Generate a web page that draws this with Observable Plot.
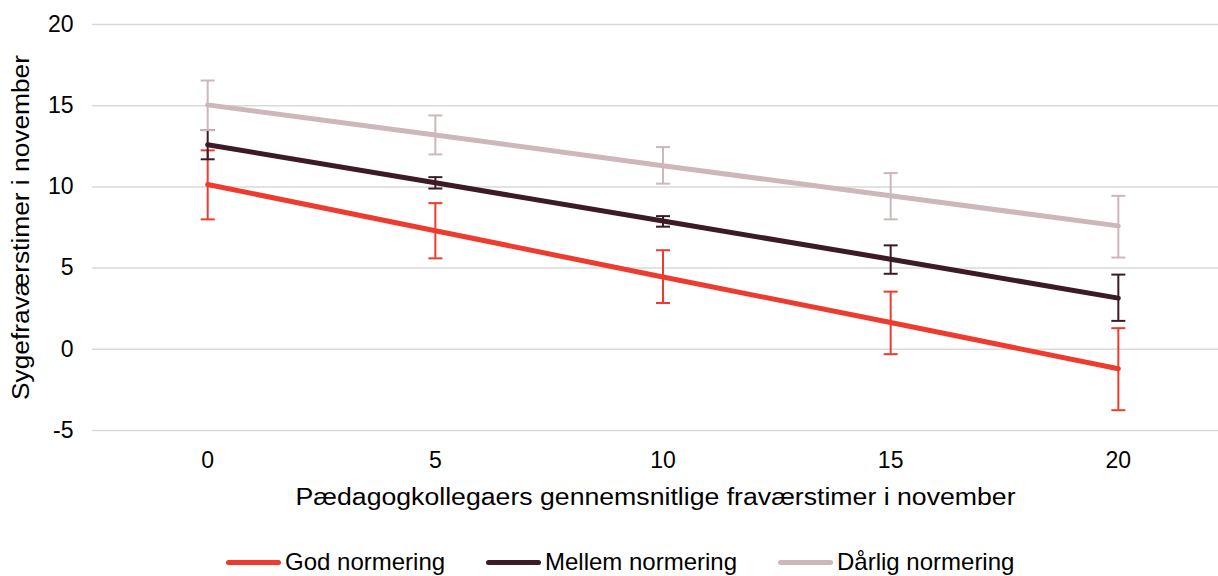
<!DOCTYPE html>
<html>
<head>
<meta charset="utf-8">
<script src="https://cdn.jsdelivr.net/npm/d3@7"></script>
<script src="https://cdn.jsdelivr.net/npm/@observablehq/plot@0.6"></script>
<style>
  html, body { margin: 0; padding: 0; background: #fff; }
  body { width: 1218px; height: 576px; overflow: hidden; font-family: "Liberation Sans", Arial, sans-serif; }
  #legend { position: absolute; left: 0; top: 548px; width: 1218px; height: 30px; font-size: 24px; color: #000; }
  .item { position: absolute; display: flex; align-items: center; white-space: nowrap; }
  .sw { width: 55px; height: 5px; border-radius: 3px; margin-right: 4px; }
</style>
</head>
<body>
<div id="chart"></div>
<div id="legend"></div>
<script>
const xValues = [0, 5, 10, 15, 20];
const seriesNames = ["God normering", "Mellem normering", "Dårlig normering"];
const seriesColors = ["#ee3b2e", "#3d1a27", "#cdb7ba"];
const godMean = [10.15, 7.3, 4.45, 1.65, -1.2];
const godLow = [8.0, 5.6, 2.85, -0.3, -3.75];
const godHigh = [12.25, 9.0, 6.1, 3.55, 1.3];
const mellemMean = [12.6, 10.25, 7.9, 5.55, 3.15];
const mellemLow = [11.7, 9.9, 7.55, 4.65, 1.75];
const mellemHigh = [13.5, 10.6, 8.2, 6.4, 4.6];
const darligMean = [15.05, 13.2, 11.3, 9.45, 7.6];
const darligLow = [13.5, 12.0, 10.2, 8.0, 5.65];
const darligHigh = [16.55, 14.4, 12.45, 10.85, 9.45];
const yTicks = [-5, 0, 5, 10, 15, 20];

const groups = [
  [godMean, godLow, godHigh],
  [mellemMean, mellemLow, mellemHigh],
  [darligMean, darligLow, darligHigh]
];
const data = [];
groups.forEach((g, s) => {
  xValues.forEach((x, i) => {
    data.push({series: seriesNames[s], x, y: g[0][i], lo: g[1][i], hi: g[2][i]});
  });
});

const capSymbol = {
  draw(ctx, size) {
    const r = Math.sqrt(size / Math.PI);
    ctx.moveTo(-r, 0);
    ctx.lineTo(r, 0);
  }
};

const marks = [
  Plot.ruleY(yTicks, {stroke: "#d9d9d9", strokeWidth: 1.5}),
  Plot.axisY({ticks: yTicks, tickSize: 0, tickPadding: 19, fontSize: 23, tickFormat: d => String(d), label: "Sygefraværstimer i november", labelAnchor: "center", labelArrow: "none", labelOffset: 80}),
  Plot.axisX({ticks: xValues, tickSize: 0, tickPadding: 21, fontSize: 23, tickFormat: d => String(d), label: "Pædagogkollegaers gennemsnitlige fraværstimer i november", labelAnchor: "center", labelArrow: "none", labelOffset: 74})
];
seriesNames.forEach((name, s) => {
  const d = data.filter(r => r.series === name);
  marks.push(Plot.line(d, {x: "x", y: "y", stroke: seriesColors[s], strokeWidth: 5, strokeLinecap: "round"}));
});
seriesNames.forEach((name, s) => {
  const d = data.filter(r => r.series === name);
  marks.push(Plot.ruleX(d, {x: "x", y1: "lo", y2: "hi", stroke: seriesColors[s], strokeWidth: 2}));
  marks.push(Plot.dot(d, {x: "x", y: "lo", symbol: capSymbol, r: 7, stroke: seriesColors[s], strokeWidth: 2, fill: "none"}));
  marks.push(Plot.dot(d, {x: "x", y: "hi", symbol: capSymbol, r: 7, stroke: seriesColors[s], strokeWidth: 2, fill: "none"}));
});

const chart = Plot.plot({
  width: 1218,
  height: 520,
  marginLeft: 92,
  marginRight: 0,
  marginTop: 24,
  marginBottom: 90,
  style: {fontFamily: "'Liberation Sans', Arial, sans-serif", fontSize: "23px", color: "#000", background: "#fff"},
  x: {domain: [-2.53, 22.2]},
  y: {domain: [-5, 20]},
  marks
});
document.getElementById("chart").appendChild(chart);

// stretch axis titles to match the reference's wide lettering
const xl = chart.querySelector('g[aria-label="x-axis label"] text');
if (xl) { xl.setAttribute("textLength", 720); xl.setAttribute("lengthAdjust", "spacingAndGlyphs"); xl.style.fontSize = "23px"; }
const yl = chart.querySelector('g[aria-label="y-axis label"] text');
if (yl) { yl.setAttribute("textLength", 345); yl.setAttribute("lengthAdjust", "spacingAndGlyphs"); yl.style.fontSize = "23px"; }

const legend = document.getElementById("legend");
const lefts = [226, 486, 778];
seriesNames.forEach((name, s) => {
  const it = document.createElement("div");
  it.className = "item";
  it.style.left = lefts[s] + "px";
  const sw = document.createElement("span");
  sw.className = "sw";
  sw.style.background = seriesColors[s];
  const tx = document.createElement("span");
  tx.textContent = name;
  it.appendChild(sw);
  it.appendChild(tx);
  legend.appendChild(it);
});
</script>
</body>
</html>
